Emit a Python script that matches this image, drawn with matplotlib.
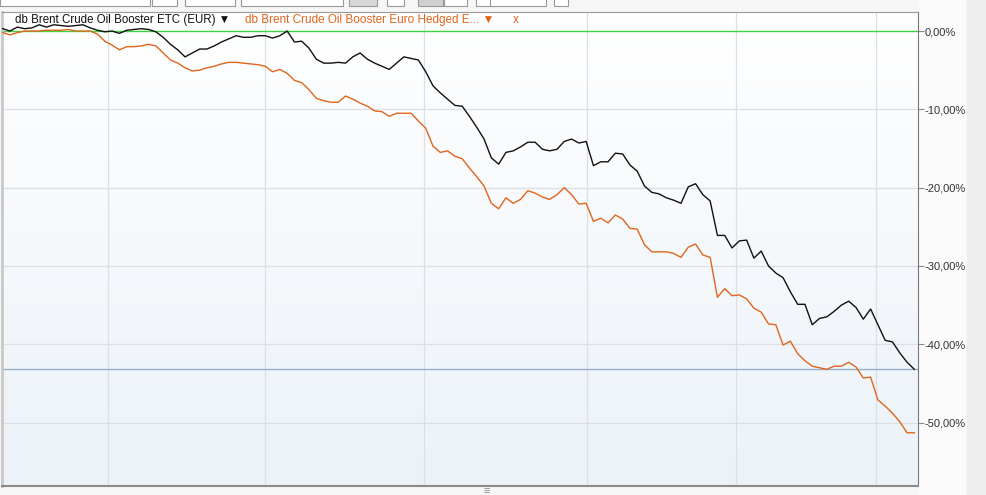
import numpy as np
import matplotlib
matplotlib.use("Agg")
import matplotlib.pyplot as plt
from matplotlib.patches import Rectangle
from matplotlib.ticker import FuncFormatter, FixedLocator

plt.rcParams['font.family'] = ['Liberation Sans', 'DejaVu Sans']

# performance in % (trading days)
etc_eur = [0.3, 0.0, 0.5, 0.3, 0.4, 0.8, 0.5, 0.8, 0.7, 0.6,
           0.7, 0.8, 0.4, 0.1, -0.1, 0.0, -0.3, 0.1, 0.2, 0.3,
           0.2, -0.1, -0.8, -1.7, -2.4, -3.3, -2.8, -2.3, -2.3, -1.9,
           -1.4, -1.0, -0.6, -0.8, -0.8, -0.6, -0.6, -0.9, -0.6, 0.0,
           -1.4, -1.3, -2.2, -3.6, -4.1, -4.1, -4.0, -4.1, -3.3, -2.8,
           -3.6, -4.1, -4.5, -4.9, -4.1, -3.3, -3.5, -3.7, -5.2, -7.0,
           -7.9, -8.7, -9.5, -9.6, -10.9, -12.3, -13.8, -16.2, -17.0, -15.5,
           -15.3, -14.8, -14.2, -14.2, -15.1, -15.3, -15.1, -14.1, -13.8, -14.3,
           -14.1, -17.2, -16.7, -16.7, -15.6, -15.7, -17.1, -17.9, -19.8, -20.6,
           -20.8, -21.3, -21.6, -22.0, -19.9, -19.5, -20.9, -21.7, -26.1, -26.1,
           -27.7, -26.8, -26.7, -29.0, -28.1, -30.0, -30.9, -31.5, -33.3, -34.9,
           -34.9, -37.5, -36.7, -36.5, -35.8, -35.0, -34.5, -35.3, -36.8, -35.5,
           -37.5, -39.5, -39.7, -41.1, -42.3, -43.2]
euro_hedged = [-0.2, -0.5, -0.2, 0.0, 0.0, 0.0, 0.1, 0.1, 0.1, 0.2,
               0.0, 0.0, 0.0, -0.4, -1.3, -1.8, -2.4, -2.0, -2.0, -1.9,
               -1.7, -1.9, -2.8, -3.7, -4.1, -4.7, -5.1, -5.0, -4.7, -4.5,
               -4.2, -4.0, -4.0, -4.1, -4.2, -4.3, -4.5, -5.2, -4.9, -5.4,
               -6.3, -6.6, -7.5, -8.6, -8.9, -9.1, -9.1, -8.3, -8.7, -9.2,
               -9.6, -10.2, -10.3, -10.9, -10.5, -10.5, -10.5, -11.5, -12.4, -14.7,
               -15.5, -15.3, -16.0, -16.3, -17.5, -18.6, -19.8, -22.0, -22.7, -21.3,
               -22.0, -21.5, -20.4, -20.7, -21.2, -21.5, -20.9, -20.0, -20.9, -22.1,
               -22.0, -24.3, -23.9, -24.5, -23.5, -24.0, -25.2, -25.3, -27.3, -28.2,
               -28.2, -28.2, -28.4, -28.9, -27.6, -27.2, -28.6, -28.9, -34.0, -32.9,
               -33.8, -33.7, -34.2, -35.4, -35.9, -37.4, -37.5, -40.1, -39.6, -41.2,
               -42.1, -42.8, -43.0, -43.2, -42.8, -42.8, -42.3, -42.9, -44.3, -44.2,
               -47.1, -47.9, -48.8, -49.9, -51.3, -51.3]
days = np.arange(len(etc_eur))
month_breaks = [14.4, 35.9, 57.8, 80.1, 100.5, 119.7]
y_ticks = [0, -10, -20, -30, -40, -50]

name1 = "db Brent Crude Oil Booster ETC (EUR)"
name2 = "db Brent Crude Oil Booster Euro Hedged E..."

fig = plt.figure(figsize=(9.87, 4.95), dpi=100, facecolor="#f6f6f6")

# panel on the right of the chart
fig.patches.append(Rectangle((918 / 987, 0), 48 / 987, 1, transform=fig.transFigure,
                             facecolor="#fbfbfb", edgecolor="none", zorder=-2))
fig.patches.append(Rectangle((967 / 987, 0), 20 / 987, 1, transform=fig.transFigure,
                             facecolor="#eeeeee", edgecolor="none", zorder=-2))

# toolbar fragments at top
for x0, w, fc in [(0, 150, "white"), (152, 25, "white"), (185, 50, "white"),
                  (241, 102, "white"), (349, 28, "#d8d8d8"), (387, 17, "white"),
                  (418, 25, "#cfcfcf"), (444, 23, "white"), (476, 17, "white"),
                  (490, 56, "white"), (554, 14, "white")]:
    fig.patches.append(Rectangle((x0 / 987, 1 - 6 / 495), w / 987, 8 / 495,
                                 transform=fig.transFigure, facecolor=fc,
                                 edgecolor="#9a9a9a", linewidth=0.8, zorder=-1))

ax = fig.add_axes([2 / 987, 9 / 495, 916 / 987, 474 / 495])
ax.set_xlim(-0.1, 125.5)
ax.set_ylim(-58.1, 2.43)

# soft vertical gradient background
grad = np.linspace(0, 1, 256).reshape(-1, 1)
top_c = np.array([1.0, 1.0, 1.0])
bot_c = np.array([0.925, 0.949, 0.973])
img = top_c * (1 - grad[..., None]) + bot_c * grad[..., None]
ax.imshow(img, extent=[0, 1, 0, 1], transform=ax.transAxes, aspect="auto",
          origin="upper", zorder=0)

for m in month_breaks:
    ax.axvline(m, color="#dcdfe3", lw=0.9, zorder=1)
for t in y_ticks:
    if t != 0:
        ax.axhline(t, color="#dcdfe3", lw=0.9, zorder=1)

ax.axhline(0, color="#3fd23f", lw=1.0, zorder=2)
ax.axhline(etc_eur[-1], color="#98aecb", lw=1.0, zorder=2)

ax.plot(days, euro_hedged, color="#e0651b", lw=1.0, zorder=3)
ax.plot(days, etc_eur, color="#111111", lw=1.0, zorder=4)

ax.yaxis.tick_right()
ax.yaxis.set_major_locator(FixedLocator(y_ticks))
ax.yaxis.set_major_formatter(FuncFormatter(lambda v, p: f"{v:.2f}%".replace(".", ",")))
ax.tick_params(axis="y", direction="out", length=4, width=0.8, color="#888888",
               labelsize=8, labelcolor="#333333", pad=1)
ax.set_xticks([])

ax.spines["left"].set_color("#c8c8c8")
ax.spines["left"].set_linewidth(2)
ax.spines["top"].set_color("#9a9a9a")
ax.spines["right"].set_color("#777777")
ax.spines["bottom"].set_color("#8a8a8a")
ax.spines["bottom"].set_linewidth(1.5)

ax.text(13 / 916, 1 - 8 / 474, name1 + " \u25bc", transform=ax.transAxes,
        fontsize=8.3, color="#111111", va="center", ha="left", zorder=5)
ax.text(243 / 916, 1 - 8 / 474, name2 + " \u25bc", transform=ax.transAxes,
        fontsize=8.5, color="#e0651b", va="center", ha="left", zorder=5)
ax.text(511 / 916, 1 - 8 / 474, "x", transform=ax.transAxes,
        fontsize=8.5, color="#e0651b", va="center", ha="left", zorder=5)

fig.text(487 / 987, 4 / 495, "\u2261", fontsize=8, color="#888888",
         ha="center", va="center")

fig.savefig("out.png", dpi=100, facecolor=fig.get_facecolor())
